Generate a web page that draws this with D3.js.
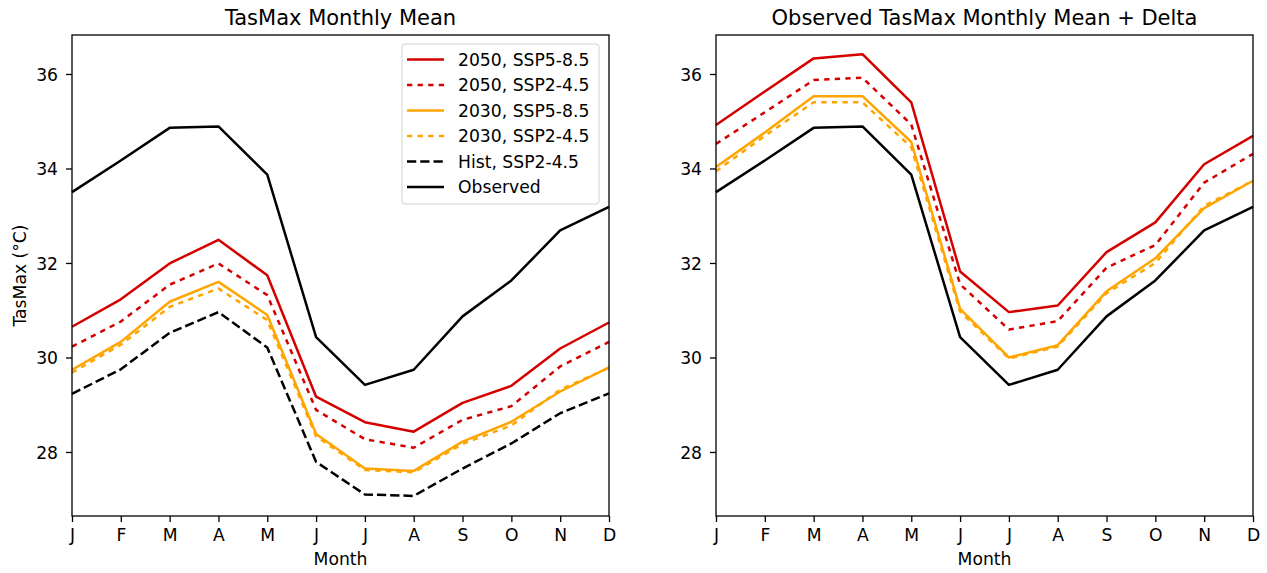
<!DOCTYPE html>
<html>
<head>
<meta charset="utf-8">
<script src="https://cdn.jsdelivr.net/npm/d3@7"></script>
<style>
  html, body { margin: 0; padding: 0; background: #fff; }
  svg { display: block; font-family: "DejaVu Sans", sans-serif; }
</style>
</head>
<body>
<svg id="chart" width="1267" height="573"></svg>
<script>
// Month labels along the x axis
const months = ["J", "F", "M", "A", "M", "J", "J", "A", "S", "O", "N", "D"];
const yTicks = [28, 30, 32, 34, 36];

// Monthly mean of daily max temperature (°C), model projections
const ssp585_2050 = [30.65, 31.23, 31.99, 32.49, 31.74, 29.17, 28.63, 28.43, 29.04, 29.40, 30.19, 30.74];
const ssp245_2050 = [30.23, 30.76, 31.54, 31.99, 31.32, 28.89, 28.27, 28.09, 28.68, 28.97, 29.81, 30.33];
const ssp585_2030 = [29.74, 30.33, 31.18, 31.60, 30.90, 28.38, 27.65, 27.60, 28.22, 28.64, 29.28, 29.79];
const ssp245_2030 = [29.68, 30.27, 31.07, 31.46, 30.79, 28.33, 27.62, 27.57, 28.17, 28.56, 29.32, 29.78];
const hist245     = [29.23, 29.75, 30.52, 30.96, 30.21, 27.79, 27.10, 27.07, 27.65, 28.18, 28.82, 29.24];
const observed    = [33.50, 34.17, 34.86, 34.89, 33.87, 30.43, 29.42, 29.74, 30.87, 31.63, 32.69, 33.19];

// Observed climatology shifted by each scenario's change from the historical run
const obsDelta585_2050 = [34.92, 35.63, 36.33, 36.42, 35.40, 31.82, 30.96, 31.10, 32.23, 32.86, 34.09, 34.69];
const obsDelta245_2050 = [34.52, 35.19, 35.87, 35.92, 34.93, 31.55, 30.59, 30.77, 31.90, 32.38, 33.70, 34.31];
const obsDelta585_2030 = [34.03, 34.76, 35.53, 35.53, 34.56, 31.03, 30.00, 30.26, 31.40, 32.10, 33.16, 33.74];
const obsDelta245_2030 = [33.94, 34.69, 35.40, 35.40, 34.45, 30.97, 29.98, 30.23, 31.36, 32.00, 33.21, 33.74];

// Shared y limits of both panels
const yLimits = [26.645, 36.825];

const RED = "#d40000", ORANGE = "#ffa500", BLACK = "#000000";
const DOT = "5.3,5.3", DASH = "9.25,4";

const styles = {
  r585: { label: "2050, SSP5-8.5", color: RED, dash: null },
  r245: { label: "2050, SSP2-4.5", color: RED, dash: DOT },
  o585: { label: "2030, SSP5-8.5", color: ORANGE, dash: null },
  o245: { label: "2030, SSP2-4.5", color: ORANGE, dash: DOT },
  hist: { label: "Hist, SSP2-4.5", color: BLACK, dash: DASH },
  obs:  { label: "Observed", color: BLACK, dash: null }
};

const leftSeries = [
  { key: "r585", values: ssp585_2050 },
  { key: "r245", values: ssp245_2050 },
  { key: "o585", values: ssp585_2030 },
  { key: "o245", values: ssp245_2030 },
  { key: "hist", values: hist245 },
  { key: "obs",  values: observed }
];
const rightSeries = [
  { key: "r585", values: obsDelta585_2050 },
  { key: "r245", values: obsDelta245_2050 },
  { key: "o585", values: obsDelta585_2030 },
  { key: "o245", values: obsDelta245_2030 },
  { key: "obs",  values: observed }
];

const svg = d3.select("#chart");
const FONT = 17.2;
const TITLE_FONT = 21;
const plotTop = 35, plotBottom = 516;

function drawPanel(left, right, series, title, yLabel, legend) {
  const x = d3.scaleLinear().domain([0, months.length - 1]).range([left, right]);
  const y = d3.scaleLinear().domain(yLimits).range([plotBottom, plotTop]);
  const g = svg.append("g");

  // data lines
  const line = d3.line().x((d, i) => x(i)).y(d => y(d));
  series.forEach(s => {
    const st = styles[s.key];
    g.append("path")
      .datum(s.values)
      .attr("d", line)
      .attr("fill", "none")
      .attr("stroke", st.color)
      .attr("stroke-width", 2.5)
      .attr("stroke-linejoin", "round")
      .attr("stroke-dasharray", st.dash);
  });

  // axes frame
  g.append("rect")
    .attr("x", left).attr("y", plotTop)
    .attr("width", right - left).attr("height", plotBottom - plotTop)
    .attr("fill", "none").attr("stroke", "#000").attr("stroke-width", 1.3);

  // x axis
  const xAxis = d3.axisBottom(x)
    .tickValues(d3.range(months.length))
    .tickFormat(i => months[i])
    .tickSize(6).tickPadding(6);
  const gx = g.append("g").attr("transform", `translate(0,${plotBottom})`).call(xAxis);
  gx.select(".domain").remove();
  gx.selectAll(".tick line").attr("stroke", "#000").attr("stroke-width", 1.3);
  gx.selectAll(".tick text")
    .attr("font-size", FONT).attr("font-family", "DejaVu Sans").attr("fill", "#000")
    .attr("dy", null).attr("y", 25);

  // y axis
  const yAxis = d3.axisLeft(y).tickValues(yTicks).tickFormat(d3.format("d"))
    .tickSize(6).tickPadding(8);
  const gy = g.append("g").attr("transform", `translate(${left},0)`).call(yAxis);
  gy.select(".domain").remove();
  gy.selectAll(".tick line").attr("stroke", "#000").attr("stroke-width", 1.3);
  gy.selectAll(".tick text")
    .attr("font-size", FONT).attr("font-family", "DejaVu Sans").attr("fill", "#000")
    .attr("dy", "0.36em");

  // title
  g.append("text")
    .attr("x", (left + right) / 2).attr("y", 25)
    .attr("text-anchor", "middle")
    .attr("font-size", TITLE_FONT).attr("fill", "#000")
    .text(title);

  // x label
  g.append("text")
    .attr("x", (left + right) / 2).attr("y", 565)
    .attr("text-anchor", "middle")
    .attr("font-size", FONT).attr("fill", "#000")
    .text("Month");

  if (yLabel) {
    g.append("text")
      .attr("transform", `translate(25.5,${(plotTop + plotBottom) / 2}) rotate(-90)`)
      .attr("text-anchor", "middle")
      .attr("font-size", FONT).attr("fill", "#000")
      .text(yLabel);
  }

  if (legend) {
    const lg = g.append("g");
    lg.append("rect")
      .attr("x", 402).attr("y", 44)
      .attr("width", 197).attr("height", 160)
      .attr("rx", 3).attr("ry", 3)
      .attr("fill", "#fff").attr("fill-opacity", 0.8)
      .attr("stroke", "#d0d0d0").attr("stroke-width", 1);
    const keys = ["r585", "r245", "o585", "o245", "hist", "obs"];
    keys.forEach((k, i) => {
      const st = styles[k];
      const ly = 59.5 + i * 25.5;
      lg.append("line")
        .attr("x1", 407).attr("x2", 444)
        .attr("y1", ly).attr("y2", ly)
        .attr("stroke", st.color).attr("stroke-width", 2.5)
        .attr("stroke-dasharray", st.dash);
      lg.append("text")
        .attr("x", 458).attr("y", ly).attr("dy", "0.36em")
        .attr("font-size", FONT).attr("fill", "#000")
        .text(st.label);
    });
  }
}

drawPanel(72, 609, leftSeries, "TasMax Monthly Mean", "TasMax (°C)", true);
drawPanel(716, 1253, rightSeries, "Observed TasMax Monthly Mean + Delta", null, false);
</script>
</body>
</html>
